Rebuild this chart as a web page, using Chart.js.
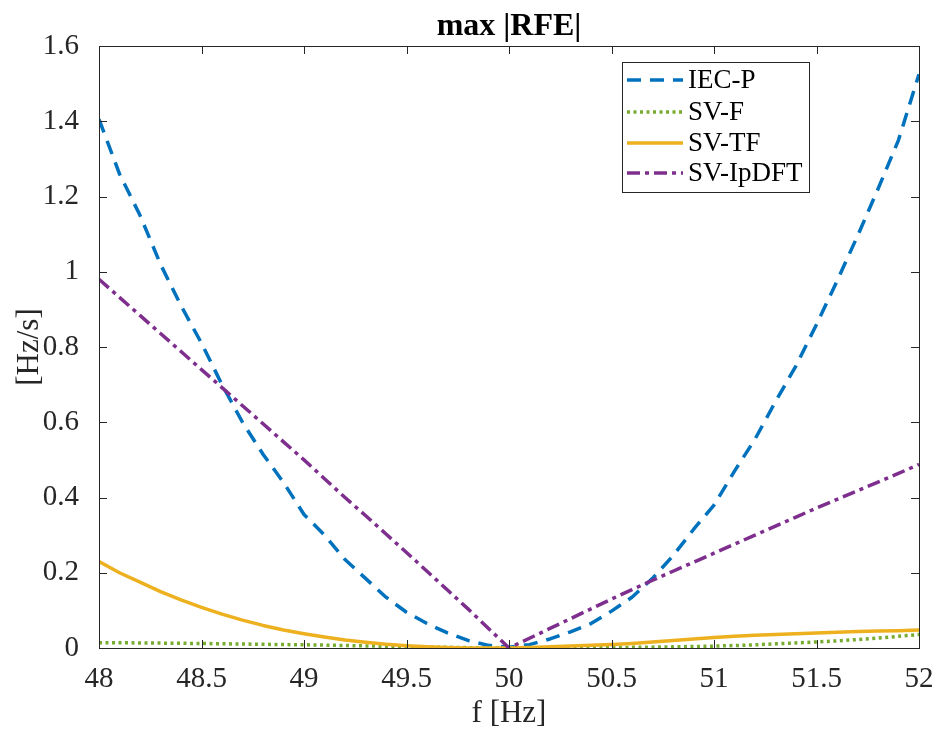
<!DOCTYPE html>
<html>
<head>
<meta charset="utf-8">
<script src="https://cdn.jsdelivr.net/npm/chart.js@4.4.1/dist/chart.umd.min.js"></script>
<style>
  html, body { margin: 0; padding: 0; background: #ffffff; }
  #wrap { width: 944px; height: 733px; }
</style>
</head>
<body>
<div id="wrap"><canvas id="c" width="944" height="733"></canvas></div>
<script>
// Frequency grid [Hz]
const freq = [48.0, 48.1, 48.2, 48.3, 48.4, 48.5, 48.6, 48.7, 48.8, 48.9,
              49.0, 49.1, 49.2, 49.3, 49.4, 49.5, 49.6, 49.7, 49.8, 49.9,
              50.0, 50.1, 50.2, 50.3, 50.4, 50.5, 50.6, 50.7, 50.8, 50.9,
              51.0, 51.1, 51.2, 51.3, 51.4, 51.5, 51.6, 51.7, 51.8, 51.9, 52.0];

// max |RFE| [Hz/s] per estimator
const iecP = [1.405, 1.26, 1.15, 1.02, 0.91, 0.81, 0.70, 0.60, 0.515, 0.44,
              0.355, 0.30, 0.235, 0.185, 0.135, 0.095, 0.065, 0.04, 0.02, 0.007,
              0.002, 0.009, 0.024, 0.043, 0.065, 0.098, 0.135, 0.185, 0.245, 0.315,
              0.38, 0.47, 0.555, 0.655, 0.75, 0.86, 0.975, 1.095, 1.22, 1.35, 1.525];

const svF = [0.014, 0.0138, 0.0135, 0.013, 0.0125, 0.012, 0.0113, 0.0106, 0.0099, 0.0092,
             0.0085, 0.0076, 0.0066, 0.0056, 0.0046, 0.0036, 0.0027, 0.0018, 0.001, 0.0004,
             0.0, 0.0001, 0.0003, 0.0005, 0.0008, 0.0012, 0.0017, 0.0023, 0.003, 0.004,
             0.005, 0.0065, 0.0085, 0.011, 0.0135, 0.016, 0.019, 0.0225, 0.0265, 0.031, 0.036];

const svTF = [0.23, 0.20, 0.175, 0.15, 0.128, 0.108, 0.09, 0.074, 0.06, 0.048,
              0.038, 0.029, 0.021, 0.015, 0.01, 0.006, 0.003, 0.001, 0.0, 0.0,
              0.0, 0.001, 0.003, 0.005, 0.007, 0.009, 0.012, 0.016, 0.02, 0.024,
              0.028, 0.031, 0.034, 0.036, 0.038, 0.040, 0.042, 0.044, 0.045, 0.046, 0.048];

const svIpDFT = [0.98, 0.932, 0.884, 0.836, 0.788, 0.74, 0.692, 0.644, 0.596, 0.548,
                 0.50, 0.45, 0.40, 0.352, 0.303, 0.254, 0.204, 0.154, 0.104, 0.052,
                 0.0, 0.026, 0.052, 0.078, 0.104, 0.13, 0.155, 0.18, 0.204, 0.228,
                 0.252, 0.276, 0.30, 0.324, 0.348, 0.372, 0.395, 0.418, 0.441, 0.464, 0.488];

const seriesNames = ['IEC-P', 'SV-F', 'SV-TF', 'SV-IpDFT'];
const xTicks = [48, 48.5, 49, 49.5, 50, 50.5, 51, 51.5, 52];
const yTicks = [0, 0.2, 0.4, 0.6, 0.8, 1, 1.2, 1.4, 1.6];

const FONT = '"Liberation Serif", "Times New Roman", serif';
const AXIS_COLOR = '#262626';

function pts(values) {
  return freq.map((f, i) => ({ x: f, y: values[i] }));
}

const styles = [
  { color: '#0072BD', dash: [14, 9],        width: 3.5 },
  { color: '#77AC30', dash: [3, 3.5],       width: 3.5 },
  { color: '#EDB120', dash: [],             width: 3.5 },
  { color: '#7E2F8E', dash: [13, 5, 4, 5],  width: 3.5 }
];
const seriesValues = [iecP, svF, svTF, svIpDFT];

const datasets = seriesValues.map((vals, i) => ({
  label: seriesNames[i],
  data: pts(vals),
  borderColor: styles[i].color,
  borderWidth: styles[i].width,
  borderDash: styles[i].dash,
  borderCapStyle: 'butt',
  borderJoinStyle: 'round',
  pointRadius: 0,
  showLine: true,
  fill: false,
  tension: 0,
  order: 4 - i
}));

// Box, inward ticks, title, axis labels and legend
const decorPlugin = {
  id: 'decor',
  afterDatasetsDraw(chart) {
    const { ctx, chartArea: a, scales } = chart;
    const xs = scales.x, ys = scales.y;
    ctx.save();
    ctx.strokeStyle = AXIS_COLOR;
    ctx.lineWidth = 1;
    ctx.setLineDash([]);
    ctx.strokeRect(Math.round(a.left) + 0.5, Math.round(a.top) + 0.5,
                   Math.round(a.right - a.left), Math.round(a.bottom - a.top));
    const tl = 8;
    ctx.beginPath();
    xTicks.forEach(v => {
      const px = Math.round(xs.getPixelForValue(v)) + 0.5;
      ctx.moveTo(px, a.bottom); ctx.lineTo(px, a.bottom - tl);
      ctx.moveTo(px, a.top); ctx.lineTo(px, a.top + tl);
    });
    yTicks.forEach(v => {
      const py = Math.round(ys.getPixelForValue(v)) + 0.5;
      ctx.moveTo(a.left, py); ctx.lineTo(a.left + tl, py);
      ctx.moveTo(a.right, py); ctx.lineTo(a.right - tl, py);
    });
    ctx.stroke();

    // title
    ctx.fillStyle = '#000';
    ctx.textAlign = 'center';
    ctx.textBaseline = 'middle';
    ctx.font = 'bold 32px ' + FONT;
    ctx.fillText('max |RFE|', (a.left + a.right) / 2, 27);

    // axis titles
    ctx.fillStyle = AXIS_COLOR;
    ctx.font = '31px ' + FONT;
    ctx.fillText('f [Hz]', (a.left + a.right) / 2, 714);
    ctx.save();
    ctx.translate(30, (a.top + a.bottom) / 2);
    ctx.rotate(-Math.PI / 2);
    ctx.fillText('[Hz/s]', 0, 0);
    ctx.restore();

    // legend
    const lx = 622, ly = 62, lw = 187, lh = 130;
    ctx.fillStyle = '#fff';
    ctx.fillRect(lx, ly, lw, lh);
    ctx.strokeStyle = AXIS_COLOR;
    ctx.lineWidth = 1;
    ctx.strokeRect(lx + 0.5, ly + 0.5, lw, lh);
    const rows = [80, 112, 143, 173];
    ctx.font = '27px ' + FONT;
    ctx.textAlign = 'left';
    ctx.textBaseline = 'middle';
    seriesNames.forEach((name, i) => {
      const y = rows[i];
      ctx.strokeStyle = styles[i].color;
      ctx.lineWidth = styles[i].width;
      ctx.lineCap = 'butt';
      ctx.setLineDash(styles[i].dash);
      ctx.beginPath();
      ctx.moveTo(627, y);
      ctx.lineTo(683, y);
      ctx.stroke();
      ctx.setLineDash([]);
      ctx.fillStyle = '#000';
      ctx.fillText(name, 688, y + 1);
    });
    ctx.restore();
  }
};

new Chart(document.getElementById('c'), {
  type: 'scatter',
  data: { datasets },
  options: {
    responsive: false,
    animation: false,
    devicePixelRatio: 1,
    layout: { padding: { top: 46, right: 25, left: 0, bottom: 0 } },
    plugins: { legend: { display: false }, tooltip: { enabled: false }, title: { display: false } },
    scales: {
      x: {
        type: 'linear',
        min: 48, max: 52,
        afterFit(s) { s.height = 85; },
        afterBuildTicks(s) { s.ticks = xTicks.map(v => ({ value: v })); },
        grid: { display: false },
        border: { display: false },
        ticks: {
          font: { family: FONT, size: 29 },
          color: AXIS_COLOR,
          padding: 6,
          maxRotation: 0,
          autoSkip: false,
          callback: v => String(v)
        }
      },
      y: {
        type: 'linear',
        min: 0, max: 1.6,
        afterFit(s) { s.width = 99; },
        afterBuildTicks(s) { s.ticks = yTicks.map(v => ({ value: v })); },
        grid: { display: false },
        border: { display: false },
        ticks: {
          font: { family: FONT, size: 29 },
          color: AXIS_COLOR,
          padding: 12,
          autoSkip: false,
          callback: v => String(Math.round(v * 10) / 10)
        }
      }
    }
  },
  plugins: [decorPlugin]
});
</script>
</body>
</html>
